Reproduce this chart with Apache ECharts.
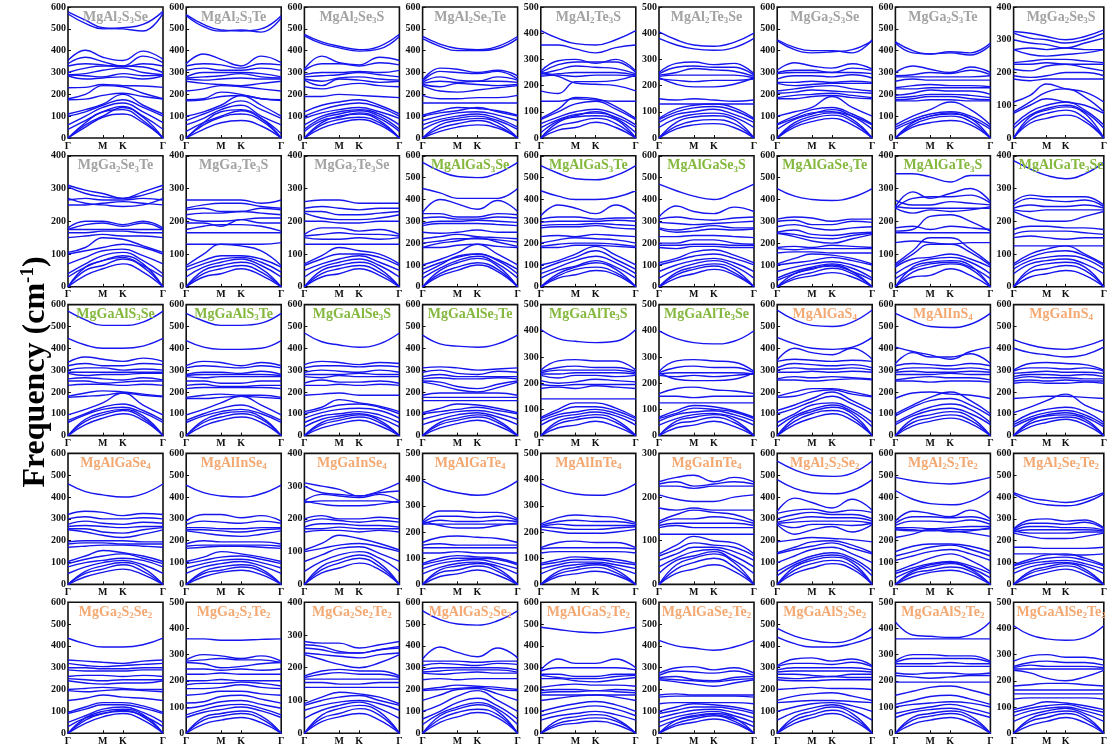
<!DOCTYPE html>
<html><head><meta charset="utf-8">
<script src="https://cdn.jsdelivr.net/npm/echarts@6/dist/echarts.min.js"></script>
<style>html,body{margin:0;padding:0;background:#fff}#c{width:1110px;height:747px}</style>
</head><body><div id="c"></div>
<script>
// k-path sample positions (Γ, mid Γ-M, M, K, mid K-Γ, Γ) on a normalised path length
const KX = [0, 0.183, 0.366, 0.577, 0.79, 1];
const KTICKS = [0, 0.366, 0.577, 1];
const KNAMES = ['Γ', 'M', 'K', 'Γ'];

const NAMES = [
 'MgAl_2S_3Se','MgAl_2S_3Te','MgAl_2Se_3S','MgAl_2Se_3Te','MgAl_2Te_3S','MgAl_2Te_3Se','MgGa_2S_3Se','MgGa_2S_3Te','MgGa_2Se_3S',
 'MgGa_2Se_3Te','MgGa_2Te_3S','MgGa_2Te_3Se','MgAlGaS_3Se','MgAlGaS_3Te','MgAlGaSe_3S','MgAlGaSe_3Te','MgAlGaTe_3S','MgAlGaTe_3Se',
 'MgGaAlS_3Se','MgGaAlS_3Te','MgGaAlSe_3S','MgGaAlSe_3Te','MgGaAlTe_3S','MgGaAlTe_3Se','MgAlGaS_4','MgAlInS_4','MgGaInS_4',
 'MgAlGaSe_4','MgAlInSe_4','MgGaInSe_4','MgAlGaTe_4','MgAlInTe_4','MgGaInTe_4','MgAl_2S_2Se_2','MgAl_2S_2Te_2','MgAl_2Se_2Te_2',
 'MgGa_2S_2Se_2','MgGa_2S_2Te_2','MgGa_2Se_2Te_2','MgAlGaS_2Se_2','MgAlGaS_2Te_2','MgAlGaSe_2Te_2','MgGaAlS_2Se_2','MgGaAlS_2Te_2','MgGaAlSe_2Te_2'
];
const YMAX = [
 600,600,600,600,500,500,600,600,400,
 400,400,400,600,600,600,600,400,400,
 600,600,600,600,500,500,600,600,600,
 600,600,400,500,500,300,600,600,600,
 600,500,400,600,600,600,600,500,500
];
// title colour group: 0 grey, 1 green, 2 orange
const GROUP = [
 0,0,0,0,0,0,0,0,0,
 0,0,0,1,1,1,1,1,1,
 1,1,1,1,1,1,2,2,2,
 2,2,2,2,2,2,2,2,2,
 2,2,2,2,2,2,2,2,2
];

// band frequencies (cm^-1) at KX for each panel
const P01 = [[578,540,505,500,490,572],[568,525,500,505,520,580],[355,402,370,355,398,360],[340,370,350,330,375,345],[330,340,335,325,340,330],[300,320,330,330,325,300],[290,295,310,320,300,290],[288,285,280,295,285,288],[285,270,275,280,270,285],[230,232,245,240,238,232],[180,200,240,235,205,180],[175,178,195,205,190,178],[110,130,155,200,150,110],[100,120,150,175,140,100],[60,100,140,160,120,70],[40,80,120,145,100,40],[0,60,100,140,95,0],[0,70,120,130,80,0],[0,50,95,110,70,0]];
const P02 = [[565,520,495,490,500,560],[560,510,490,495,485,550],[340,385,360,330,375,345],[330,340,335,320,340,335],[310,320,310,310,320,310],[280,300,300,300,295,280],[275,280,285,295,280,275],[270,265,270,275,270,270],[260,250,245,240,250,260],[215,225,240,235,225,215],[175,180,210,200,180,175],[170,175,190,195,180,172],[100,120,150,195,150,100],[80,110,140,170,130,90],[60,90,130,150,100,60],[0,70,120,130,90,0],[0,60,95,110,80,0],[0,40,70,80,55,0],[30,70,100,125,90,20]];
const P03 = [[475,440,420,405,420,475],[468,432,413,398,408,465],[315,375,345,335,370,355],[310,340,340,330,345,335],[290,300,300,305,300,310],[280,285,290,300,290,280],[270,260,275,280,270,265],[265,240,270,265,255,260],[235,225,240,250,240,235],[190,190,200,195,190,185],[120,150,165,175,150,110],[100,130,150,160,140,100],[90,115,130,140,120,90],[60,100,120,130,110,60],[40,90,110,125,100,40],[0,70,100,110,80,0],[0,60,85,95,70,0],[0,45,70,85,60,0],[30,80,95,115,90,30]];
const P04 = [[465,430,410,405,420,465],[455,420,400,400,410,455],[265,320,315,300,310,285],[260,305,300,295,305,270],[255,280,265,260,280,265],[250,260,255,260,260,255],[245,235,250,245,240,245],[240,215,210,220,230,240],[195,180,180,185,185,195],[160,160,160,160,160,160],[105,125,140,135,125,105],[100,115,125,140,120,100],[80,100,115,120,105,80],[60,85,100,110,90,50],[40,75,90,100,80,40],[0,60,80,90,70,0],[0,45,65,80,55,0],[0,30,50,60,45,0]];
const P05 = [[410,380,360,355,375,410],[355,355,340,325,345,355],[255,295,300,285,300,255],[250,280,290,290,290,250],[245,260,275,270,265,245],[240,245,250,250,250,240],[235,240,235,240,240,235],[180,170,215,215,220,240],[250,235,210,205,200,180],[140,140,150,145,140,140],[75,110,155,150,120,75],[70,100,130,140,110,70],[55,80,100,110,90,50],[40,70,90,95,80,40],[0,60,80,85,70,0],[0,45,60,75,55,0],[0,30,40,60,40,0],[20,65,85,100,75,20]];
const P06 = [[405,375,355,350,365,400],[380,355,340,335,345,380],[250,285,290,280,285,245],[245,270,275,270,270,240],[240,250,265,260,255,235],[235,240,240,240,240,230],[225,220,215,220,220,225],[230,205,195,195,205,230],[150,145,150,145,140,145],[130,130,130,130,130,130],[75,110,125,130,115,75],[70,100,115,120,105,70],[60,90,100,110,90,60],[40,75,90,95,80,40],[0,60,80,85,70,0],[0,45,65,70,55,0],[0,35,50,55,40,0]];
const P07 = [[450,415,400,400,390,450],[445,405,390,395,405,445],[310,345,330,320,340,315],[300,310,310,300,320,310],[295,300,300,300,300,295],[270,285,285,280,290,275],[255,255,260,255,260,255],[250,240,245,250,250,250],[215,225,235,240,225,215],[205,210,220,215,210,205],[185,195,200,205,195,185],[180,180,190,195,185,180],[100,120,140,190,140,100],[65,100,130,140,110,65],[60,90,115,120,100,60],[0,70,100,115,85,0],[0,60,90,105,75,0],[0,50,75,90,60,0],[40,85,110,130,100,40]];
const P08 = [[440,400,385,395,390,435],[435,390,385,390,380,425],[300,330,315,300,325,300],[285,290,300,295,310,290],[280,280,280,280,280,285],[260,270,265,265,265,265],[230,240,245,240,240,235],[225,225,230,230,230,230],[195,205,220,215,215,200],[185,190,200,200,195,185],[175,180,190,190,180,175],[170,170,175,175,170,170],[60,100,130,165,130,60],[50,85,110,120,100,50],[0,70,100,110,90,0],[0,60,90,100,75,0],[0,50,70,80,60,0],[40,75,100,115,90,40]];
const P09 = [[325,320,310,300,310,330],[320,305,300,290,300,320],[300,290,285,275,290,305],[270,275,270,275,270,270],[270,255,250,255,260,270],[230,235,240,240,235,230],[225,225,230,225,225,225],[210,205,220,225,215,205],[190,185,190,200,200,190],[180,175,180,180,180,180],[110,130,165,150,140,110],[80,110,140,150,125,80],[75,100,120,110,100,75],[40,80,100,110,85,40],[0,65,85,95,75,0],[0,55,75,85,60,0],[0,45,60,70,50,0],[30,70,90,100,80,30]];
const P10 = [[310,295,285,270,290,310],[305,285,275,270,280,300],[265,270,265,265,270,265],[250,250,255,260,255,250],[270,255,250,245,250,270],[180,200,200,190,200,180],[175,190,195,185,195,175],[175,175,175,175,175,175],[165,165,170,170,165,165],[150,155,160,155,155,150],[105,120,150,145,125,105],[100,110,120,130,120,100],[70,90,110,115,95,70],[40,70,95,105,80,40],[0,60,80,95,70,0],[0,50,65,85,60,0],[0,35,55,70,45,0],[30,60,80,90,65,30]];
const P11 = [[265,265,265,265,255,265],[240,250,255,255,245,240],[235,240,230,230,240,235],[220,225,225,230,225,220],[210,200,200,205,210,210],[195,195,185,205,195,195],[175,185,190,190,185,170],[165,165,165,165,165,165],[130,130,130,130,130,135],[65,100,130,125,110,65],[60,80,95,95,85,60],[50,70,85,90,75,45],[30,60,75,85,65,30],[0,50,65,75,55,0],[0,40,55,65,45,0],[0,30,40,55,35,0]];
const P12 = [[260,265,265,255,255,255],[240,245,240,235,240,240],[230,230,220,220,225,230],[225,210,205,205,210,220],[200,200,195,195,200,200],[160,180,180,170,175,160],[155,160,165,160,160,155],[150,145,145,150,145,150],[130,130,130,130,130,130],[70,95,120,110,100,70],[65,85,100,100,90,65],[50,70,85,95,75,50],[30,60,75,85,65,30],[0,50,65,75,55,0],[0,40,55,65,45,0],[0,30,40,55,35,0]];
const P13 = [[570,530,505,500,520,570],[450,430,405,405,405,450],[340,400,380,355,395,345],[335,335,320,320,335,330],[315,320,310,310,320,315],[290,300,300,305,300,295],[280,290,290,290,285,280],[250,245,250,260,250,250],[220,230,240,230,225,220],[200,210,220,220,215,205],[180,200,210,225,205,185],[180,180,190,195,185,180],[100,125,155,195,150,100],[60,100,140,150,120,60],[0,75,110,130,95,0],[0,60,90,110,80,0],[0,50,75,100,70,0],[40,85,120,140,105,40],[80,110,135,150,125,80]];
const P14 = [[555,520,495,490,510,555],[440,415,400,400,410,440],[325,375,360,335,375,330],[310,320,320,310,315,315],[295,300,300,300,305,300],[280,285,285,290,285,280],[270,275,275,280,270,265],[230,235,230,240,235,230],[200,215,225,220,215,200],[185,195,200,200,195,185],[180,180,190,190,185,180],[100,120,150,185,145,100],[80,110,135,165,125,80],[60,90,120,140,110,60],[0,60,90,110,80,0],[0,50,80,90,65,0],[0,40,55,75,55,0],[40,75,95,120,90,40]];
const P15 = [[470,440,415,400,430,470],[320,370,345,335,365,345],[310,320,310,305,315,320],[295,290,285,290,295,300],[270,260,270,280,270,270],[265,250,255,265,260,265],[230,230,235,235,230,225],[200,200,215,215,200,195],[190,190,195,195,190,190],[180,175,185,185,180,180],[110,130,160,170,145,110],[100,120,140,150,130,100],[70,100,120,130,110,70],[40,80,105,120,95,40],[0,65,90,105,80,0],[0,55,80,95,65,0],[0,40,60,80,55,0]];
const P16 = [[450,415,400,395,410,450],[310,320,315,300,310,310],[300,305,285,285,300,295],[275,285,270,260,270,275],[250,260,240,235,245,250],[245,240,225,220,235,245],[245,230,210,200,220,240],[180,185,180,190,185,180],[175,170,175,175,175,175],[155,160,160,155,155,155],[105,130,150,145,130,105],[100,110,120,135,120,100],[70,90,105,115,100,70],[40,70,90,105,85,40],[0,60,80,100,70,0],[0,45,65,85,60,0],[0,35,50,65,45,0],[30,60,85,95,70,30]];
const P17 = [[345,345,335,320,340,340],[245,290,270,285,300,260],[240,270,275,275,280,255],[265,250,250,260,255,250],[245,240,240,240,240,240],[240,225,235,230,235,245],[170,175,215,220,200,170],[180,185,175,185,180,175],[165,165,165,165,165,165],[135,140,135,130,135,135],[70,110,150,150,115,70],[65,100,130,130,105,65],[60,85,90,100,85,60],[40,70,85,90,75,40],[0,60,75,80,65,0],[0,45,60,70,55,0],[0,30,35,55,35,0],[25,55,70,75,60,25]];
const P18 = [[385,360,340,330,345,380],[260,280,275,275,275,250],[250,270,265,260,265,245],[240,250,245,245,250,240],[235,230,235,235,235,235],[230,210,200,200,215,230],[175,185,185,180,180,175],[160,170,170,170,165,160],[150,155,150,145,150,150],[125,125,125,125,125,125],[70,100,115,125,100,70],[65,90,105,110,95,65],[55,80,90,95,85,55],[40,70,80,85,70,40],[0,55,70,75,60,0],[0,45,55,65,50,0],[0,30,40,50,35,0]];
const P19 = [[570,530,505,505,520,570],[445,415,400,400,410,445],[335,360,350,340,355,340],[320,330,320,320,330,325],[300,310,310,300,305,300],[290,290,290,290,290,290],[285,275,280,280,285,285],[260,265,260,255,265,255],[250,250,240,245,250,250],[230,235,235,230,235,230],[180,195,205,200,190,180],[175,180,185,195,185,178],[95,120,150,195,140,95],[70,100,130,145,115,70],[60,95,120,130,105,60],[0,75,105,120,90,0],[0,65,95,115,80,0],[0,50,80,100,70,0]];
const P20 = [[560,525,505,505,515,560],[435,405,395,395,400,435],[320,340,335,320,335,320],[310,320,315,310,320,310],[280,290,290,285,295,280],[275,280,280,280,280,275],[270,265,270,270,270,270],[250,250,240,240,250,250],[230,235,225,225,230,230],[215,220,220,220,220,215],[175,185,190,185,185,175],[170,170,175,180,175,170],[95,120,150,180,140,95],[70,100,125,140,110,70],[60,90,110,120,100,60],[0,70,100,110,85,0],[0,60,85,100,75,0],[0,45,70,85,60,0]];
const P21 = [[470,430,415,405,420,470],[325,340,335,325,335,330],[310,320,320,315,320,315],[290,300,295,290,300,290],[280,280,280,285,280,280],[270,265,275,270,270,270],[240,255,245,245,250,240],[230,230,235,230,235,230],[185,190,195,185,185,185],[110,130,165,150,135,110],[100,120,140,145,130,100],[80,105,120,125,115,80],[60,90,100,110,95,60],[40,75,90,100,80,40],[0,60,80,95,70,0],[0,50,70,85,60,0],[0,35,55,70,45,0]];
const P22 = [[460,420,410,405,420,460],[310,315,310,300,305,310],[290,300,285,280,295,290],[270,280,270,270,270,270],[260,265,260,260,265,260],[250,245,225,215,235,250],[245,230,210,200,220,245],[185,195,195,195,195,185],[175,175,175,175,175,175],[160,160,160,160,160,160],[105,125,145,140,125,105],[100,110,120,130,115,100],[75,95,110,115,100,75],[50,75,95,105,85,50],[0,60,80,95,70,0],[0,50,70,85,60,0],[0,35,55,70,45,0]];
const P23 = [[405,370,360,355,360,405],[250,285,290,285,285,250],[245,260,265,260,260,245],[240,250,250,250,250,240],[235,235,240,240,240,235],[230,220,230,230,225,230],[210,200,205,215,210,205],[195,190,195,195,195,195],[180,185,180,190,185,180],[140,140,140,140,140,140],[70,100,125,125,105,70],[65,90,110,110,95,65],[55,80,90,100,85,55],[40,70,80,90,75,40],[0,55,70,80,60,0],[0,45,60,70,50,0],[0,30,40,55,35,0]];
const P24 = [[400,370,355,350,360,400],[245,285,290,285,280,245],[240,260,265,260,260,240],[235,240,240,240,240,235],[230,225,230,225,230,235],[240,215,210,210,215,240],[160,180,185,175,170,160],[150,150,145,150,150,150],[125,125,125,125,125,125],[70,95,115,110,95,70],[65,85,105,100,90,65],[55,80,90,95,80,55],[40,65,80,85,70,40],[0,55,70,80,60,0],[0,45,55,70,50,0],[0,30,40,55,35,0]];
const P25 = [[575,530,505,500,520,575],[450,420,400,395,405,450],[345,400,380,370,400,350],[340,350,345,340,345,340],[310,330,325,320,325,310],[300,310,305,305,310,300],[290,290,295,290,295,290],[260,270,265,270,265,260],[255,255,250,255,260,255],[180,200,215,215,200,180],[175,180,200,210,190,178],[115,140,170,200,160,115],[100,125,155,180,145,100],[60,100,140,150,120,60],[0,80,110,130,100,0],[0,65,100,115,85,0],[0,50,80,100,70,0],[40,90,120,140,110,40]];
const P26 = [[560,525,500,495,510,560],[405,385,370,350,385,405],[330,380,360,360,375,330],[320,330,325,320,330,320],[300,310,310,305,310,300],[290,295,290,290,295,290],[280,280,280,285,280,280],[255,265,270,265,265,255],[250,250,245,250,250,245],[170,195,200,190,185,170],[100,140,175,200,160,100],[90,130,160,170,140,90],[60,100,130,145,120,60],[50,90,115,125,100,50],[0,75,95,110,85,0],[0,60,80,95,70,0],[0,45,65,80,55,0]];
const P27 = [[440,415,400,395,410,440],[400,380,370,360,370,405],[300,330,335,330,325,300],[295,310,310,305,310,295],[285,290,295,290,290,285],[270,280,280,275,280,270],[260,270,265,265,260,260],[250,255,250,255,250,250],[240,245,240,240,245,240],[170,175,180,180,175,170],[105,130,160,190,140,105],[60,100,120,130,110,60],[50,85,105,115,95,50],[40,75,95,105,85,40],[0,65,90,95,75,0],[0,55,75,85,65,0],[0,40,60,75,50,0]];
const P28 = [[460,425,410,400,415,460],[320,335,330,315,325,320],[300,310,300,300,305,300],[275,290,280,275,285,280],[265,270,265,260,265,265],[255,255,240,235,250,260],[250,240,225,215,230,250],[195,200,200,200,195,195],[185,190,190,185,185,185],[170,175,180,180,175,170],[105,130,155,145,130,105],[95,115,130,140,120,95],[80,100,110,120,110,80],[50,80,100,110,90,50],[0,60,85,100,75,0],[0,50,70,90,60,0],[0,35,55,70,45,0]];
const P29 = [[455,420,405,400,415,455],[290,320,320,305,315,290],[275,290,285,280,290,280],[260,260,255,255,260,260],[250,250,245,240,250,255],[245,235,225,220,230,245],[185,200,195,195,195,185],[175,180,180,180,180,175],[165,170,175,175,170,165],[105,125,150,140,125,105],[95,110,125,130,115,95],[75,95,110,115,100,75],[50,80,95,105,85,50],[0,60,80,90,70,0],[0,50,65,80,60,0],[0,35,55,65,45,0]];
const P30 = [[310,300,290,270,285,310],[300,280,275,270,280,285],[255,275,270,265,275,255],[250,255,255,255,255,250],[255,245,240,240,245,255],[200,210,200,200,205,200],[190,200,195,190,195,190],[175,185,185,180,180,175],[170,170,175,170,170,170],[160,165,165,160,165,160],[105,125,150,140,125,105],[100,110,120,125,115,100],[70,90,110,115,95,70],[40,70,90,100,80,40],[0,55,75,90,65,0],[0,45,65,80,55,0],[0,35,50,65,45,0]];
const P31 = [[395,365,350,340,355,395],[240,280,280,275,275,250],[235,260,260,255,260,245],[230,245,240,240,245,240],[230,230,230,230,230,230],[240,225,215,215,225,235],[160,180,185,180,175,160],[150,155,150,150,150,150],[140,140,140,140,140,140],[120,120,125,120,120,120],[80,100,110,105,100,80],[75,90,100,100,95,75],[60,80,90,95,80,60],[40,65,80,85,70,40],[0,55,70,80,60,0],[0,45,55,70,50,0],[0,30,40,55,35,0]];
const P32 = [[385,360,345,340,350,385],[230,255,265,260,255,235],[225,240,245,240,240,230],[220,230,225,225,225,225],[220,215,210,210,215,220],[210,200,195,195,200,210],[140,160,165,160,160,140],[135,140,140,140,140,135],[120,125,125,125,125,120],[80,95,105,100,95,80],[75,85,95,95,85,75],[60,75,85,85,75,60],[40,65,75,80,65,40],[0,50,65,75,55,0],[0,40,55,65,45,0],[0,30,40,50,35,0]];
const P33 = [[235,245,250,235,245,235],[230,235,225,230,235,230],[225,225,220,225,225,225],[205,195,190,190,200,205],[175,170,175,170,170,170],[145,160,170,165,160,145],[140,150,150,155,150,140],[135,140,140,140,140,135],[130,135,130,130,130,130],[115,115,115,115,115,115],[70,90,110,100,95,70],[65,80,95,90,85,65],[55,70,85,85,75,55],[40,60,75,80,65,40],[25,55,65,75,55,25],[0,45,60,70,50,0],[0,35,50,60,40,0],[0,25,35,45,30,0]];
const P34 = [[565,525,500,495,510,565],[480,440,420,415,430,480],[335,395,375,350,390,340],[325,340,345,330,340,330],[300,320,330,320,320,300],[285,300,310,305,305,290],[280,285,290,290,290,280],[280,260,275,275,270,280],[275,230,250,265,240,275],[195,205,215,210,205,195],[145,170,195,200,180,145],[140,160,175,190,165,140],[100,130,160,170,140,100],[60,100,130,145,120,60],[0,80,110,125,100,0],[0,65,95,110,85,0],[0,50,75,95,70,0],[40,90,120,135,110,40]];
const P35 = [[490,475,465,460,470,490],[430,390,370,365,380,430],[290,335,325,310,340,300],[280,310,310,305,310,290],[270,290,290,285,295,275],[260,260,255,260,265,265],[255,250,245,250,250,255],[250,245,250,240,245,260],[215,230,250,245,235,220],[150,175,185,185,175,150],[130,150,170,180,160,130],[110,130,150,160,140,110],[60,90,120,140,110,60],[50,75,95,105,85,50],[0,60,80,95,70,0],[0,50,65,80,60,0],[0,35,55,65,45,0],[30,65,90,100,75,30]];
const P36 = [[420,395,385,375,390,420],[415,380,365,360,375,415],[255,295,300,290,295,260],[250,280,280,275,285,255],[245,265,265,260,260,250],[240,250,250,250,250,245],[245,235,235,235,240,240],[235,220,210,210,220,235],[170,170,165,165,165,170],[140,140,140,135,135,140],[90,115,135,140,120,90],[85,105,120,125,110,85],[70,95,105,110,95,70],[50,80,95,100,85,50],[0,60,80,95,70,0],[0,50,70,85,60,0],[0,35,55,70,45,0]];
const P37 = [[435,410,395,395,405,435],[335,330,325,320,330,335],[320,310,305,310,315,320],[300,300,295,295,300,300],[290,285,285,285,290,290],[260,265,265,260,265,260],[250,245,240,245,245,245],[240,230,225,230,230,240],[200,205,210,205,200,200],[195,190,195,200,195,190],[150,160,175,165,160,150],[95,120,140,140,125,95],[90,110,130,130,115,90],[50,80,110,120,95,50],[0,70,100,110,85,0],[0,60,90,100,75,0],[0,45,75,90,60,0],[30,70,90,105,80,30]];
const P38 = [[360,360,355,355,358,360],[280,300,295,285,295,275],[275,280,285,280,280,270],[270,265,250,255,265,270],[245,245,240,245,240,245],[225,225,230,225,225,225],[200,200,205,200,200,200],[185,190,190,195,190,180],[170,170,175,185,175,170],[145,150,160,160,150,145],[115,120,140,145,130,115],[95,105,120,125,110,95],[70,90,105,110,95,70],[60,80,90,100,85,60],[0,60,75,85,65,0],[0,50,65,75,55,0],[0,35,50,60,40,0]];
const P39 = [[280,275,275,260,270,280],[270,265,250,245,255,265],[260,255,245,245,255,260],[245,240,235,230,240,245],[240,225,210,200,215,240],[175,190,195,190,190,175],[170,180,185,180,180,170],[165,165,165,165,165,165],[155,155,150,150,155,155],[140,140,140,140,140,140],[90,110,125,120,110,90],[85,100,110,115,100,85],[70,85,95,100,90,70],[45,70,85,95,75,45],[0,55,75,85,65,0],[0,45,60,75,55,0],[0,35,50,60,40,0]];
const P40 = [[560,520,500,495,515,560],[340,395,370,350,390,345],[330,330,330,325,330,330],[310,320,315,310,320,315],[290,300,300,300,300,290],[280,285,290,290,290,280],[275,270,275,280,275,275],[245,250,245,250,250,250],[200,210,220,215,210,200],[195,200,205,210,200,195],[150,175,200,205,180,150],[100,130,170,195,150,100],[65,100,140,160,125,65],[0,80,110,130,100,0],[0,65,95,110,85,0],[0,50,75,95,70,0],[40,90,120,140,110,40]];
const P41 = [[485,475,465,460,470,485],[290,340,320,320,340,300],[285,300,300,300,300,290],[270,270,260,260,270,270],[265,255,250,250,260,265],[250,250,240,235,245,255],[210,220,225,220,220,215],[195,200,200,195,200,195],[185,190,190,195,190,185],[175,175,175,175,175,175],[150,160,170,175,165,150],[100,120,135,145,130,100],[80,100,115,125,110,80],[60,80,90,100,85,60],[0,60,75,85,65,0],[0,45,60,70,55,0],[0,35,45,55,40,0]];
const P42 = [[425,400,390,380,395,425],[275,300,305,290,300,275],[265,285,280,275,285,265],[255,260,245,240,255,260],[250,245,240,235,245,250],[245,235,225,215,230,245],[175,180,175,175,175,175],[165,170,170,170,170,165],[135,140,140,140,140,135],[100,120,135,130,120,100],[90,105,120,120,110,90],[70,90,105,110,95,70],[50,75,90,100,80,50],[0,60,80,90,70,0],[0,45,65,80,55,0],[0,35,50,65,45,0],[30,60,75,85,65,30]];
const P43 = [[480,445,425,415,430,480],[440,410,395,395,410,440],[310,340,345,330,340,310],[305,320,320,315,325,305],[290,300,300,300,300,290],[280,285,285,285,285,280],[270,270,265,260,270,270],[255,250,255,260,255,255],[245,240,240,245,245,245],[200,205,210,205,205,200],[150,170,180,185,170,150],[140,145,150,150,145,140],[100,120,135,140,125,100],[60,95,115,130,105,60],[0,75,100,120,90,0],[0,60,85,105,75,0],[0,45,70,90,60,0]];
const P44 = [[425,375,370,365,375,425],[360,360,360,360,360,360],[275,300,300,295,295,275],[270,285,285,285,285,270],[265,265,265,270,265,265],[255,255,255,255,255,255],[230,225,230,230,225,230],[220,215,210,215,220,220],[195,195,195,195,195,195],[145,160,175,180,165,145],[110,125,140,145,130,110],[100,110,115,120,115,100],[75,90,100,110,95,75],[60,80,90,95,80,60],[0,60,75,85,65,0],[0,50,65,75,55,0],[0,35,50,60,40,0]];
const P45 = [[410,375,360,355,365,410],[275,295,300,290,290,280],[255,270,275,270,270,260],[250,260,255,255,255,250],[245,245,245,245,245,245],[240,230,210,200,215,240],[180,185,190,190,185,180],[165,165,165,165,165,165],[150,150,150,150,150,150],[130,135,135,135,135,130],[90,105,120,115,105,90],[80,95,105,110,95,80],[65,85,95,100,85,65],[45,70,85,95,75,45],[0,55,75,85,65,0],[0,45,60,75,55,0],[0,30,45,60,40,0]];

const BANDS = [P01,P02,P03,P04,P05,P06,P07,P08,P09,P10,P11,P12,P13,P14,P15,P16,P17,P18,P19,P20,P21,P22,P23,P24,P25,P26,P27,P28,P29,P30,P31,P32,P33,P34,P35,P36,P37,P38,P39,P40,P41,P42,P43,P44,P45];

const TITLE_COLORS = ['#a3a3a3', '#84b83e', '#f4a872'];
const LINE_COLOR = '#1515ee';
const SERIF = '"Liberation Serif", "Times New Roman", serif';

const chart = echarts.init(document.getElementById('c'), null, {renderer: 'canvas'});
const grids = [], xAxes = [], yAxes = [], titles = [], series = [];
const COLS = 9, GL = 68, GW = 95, GP = 118.2, GT = 7, GH = 131, RP = 148.8;

NAMES.forEach((name, p) => {
  const r = Math.floor(p / COLS), c = p % COLS;
  const left = GL + GP * c, top = GT + RP * r;
  grids.push({left: left, top: top, width: GW, height: GH, show: true, borderColor: '#111', borderWidth: 1.6, containLabel: false});
  xAxes.push({
    type: 'value', gridIndex: p, min: 0, max: 1,
    axisLine: {show: false}, splitLine: {show: false},
    axisTick: {show: true, inside: true, length: 3, customValues: [KTICKS[1], KTICKS[2]], lineStyle: {color: '#111', width: 1}},
    axisLabel: {show: true, customValues: KTICKS, margin: 3,
      formatter: v => { let best = 0; KTICKS.forEach((t, i) => { if (Math.abs(t - v) < Math.abs(KTICKS[best] - v)) best = i; }); return KNAMES[best]; },
      fontFamily: SERIF, fontWeight: 'bold', fontSize: 10, color: '#111'}
  });
  yAxes.push({
    type: 'value', gridIndex: p, min: 0, max: YMAX[p], interval: 100,
    axisLine: {show: false}, splitLine: {show: false},
    axisTick: {show: true, inside: true, length: 3, lineStyle: {color: '#111', width: 1}},
    axisLabel: {show: true, margin: 2, fontFamily: SERIF, fontWeight: 'bold', fontSize: 10, color: '#111'}
  });
  const rich = name.replace(/_(\d)/g, '{s|$1}').replace(/([A-Za-z]+)(?=\{|$)/g, '{n|$1}');
  const col = TITLE_COLORS[GROUP[p]];
  titles.push({
    text: rich, left: left + GW / 2, top: top + 2, textAlign: 'center', padding: 0,
    textStyle: {rich: {
      n: {fontFamily: SERIF, fontWeight: 'bold', fontSize: 14, color: col},
      s: {fontFamily: SERIF, fontWeight: 'bold', fontSize: 9, color: col, padding: [7, 0, 0, 0]}
    }}
  });
  BANDS[p].forEach(b => {
    series.push({
      type: 'line', xAxisIndex: p, yAxisIndex: p, data: KX.map((x, i) => [x, b[i]]),
      smooth: 0.45, symbol: 'none', silent: true, clip: true,
      lineStyle: {color: LINE_COLOR, width: 1.4}
    });
  });
});

chart.setOption({
  animation: false,
  backgroundColor: '#fff',
  grid: grids, xAxis: xAxes, yAxis: yAxes, title: titles, series: series,
  graphic: [{
    type: 'text', x: 36, y: 372, rotation: Math.PI / 2,
    style: {
      text: '{m|Frequency (cm}{u|-1}{m|)}', align: 'center', verticalAlign: 'middle',
      rich: {
        m: {fontFamily: SERIF, fontWeight: 'bold', fontSize: 32, fill: '#000'},
        u: {fontFamily: SERIF, fontWeight: 'bold', fontSize: 19, fill: '#000', padding: [0, 0, 16, 0]}
      }
    }
  }]
});
</script></body></html>
